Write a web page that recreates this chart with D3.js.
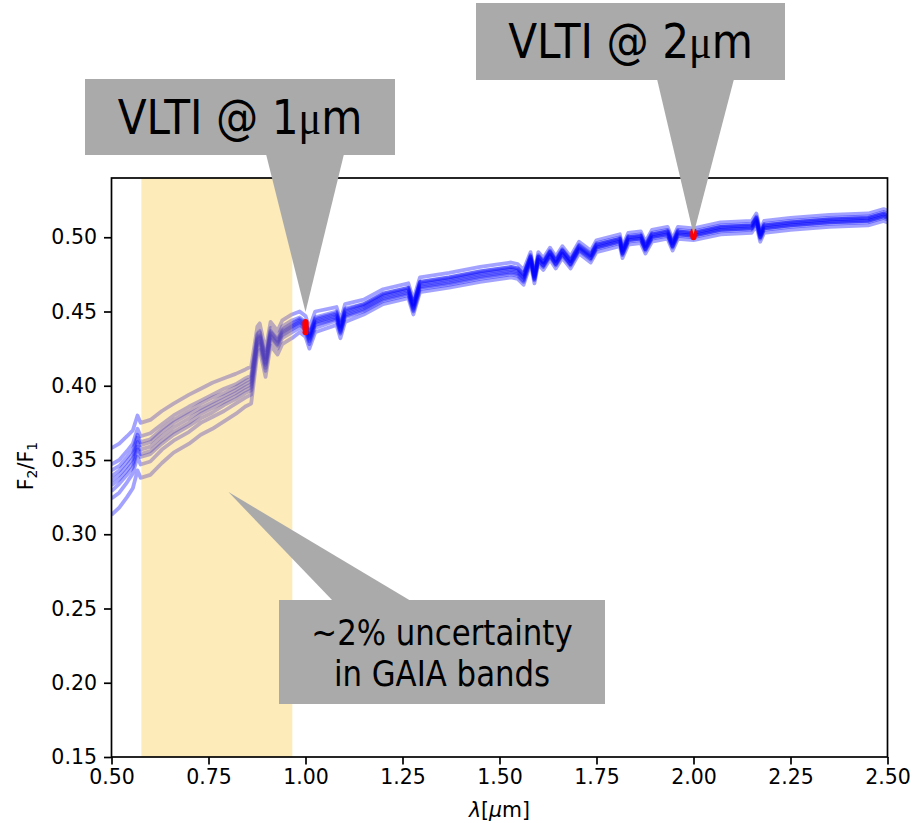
<!DOCTYPE html>
<html><head><meta charset="utf-8">
<script src="https://cdn.jsdelivr.net/npm/d3@7"></script>
<style>body{margin:0;background:#fff}svg{display:block}</style>
</head><body>
<svg id="c" width="916" height="823"></svg>
<script>
// ---- data ----
const wavelength = [0.500,0.520,0.540,0.555,0.567,0.575,0.600,0.630,0.660,0.700,
  0.730,0.760,0.790,0.820,0.845,0.860,0.876,0.882,0.897,0.910,
  0.928,0.940,0.965,0.985,1.000,1.010,1.025,1.080,1.090,1.102,
  1.150,1.200,1.265,1.278,1.295,1.370,1.450,1.530,1.547,1.562,
  1.580,1.590,1.600,1.613,1.630,1.645,1.662,1.683,1.705,1.735,
  1.750,1.810,1.817,1.832,1.864,1.876,1.893,1.933,1.946,1.960,
  2.000,2.070,2.150,2.162,2.172,2.182,2.250,2.350,2.450,2.490,2.500];

const memberA = [0.358,0.361,0.366,0.370,0.380,0.375,0.377,0.383,0.388,0.394,
  0.398,0.402,0.405,0.408,0.411,0.413,0.440,0.442,0.424,0.443,
  0.437,0.444,0.448,0.450,0.447,0.439,0.450,0.453,0.444,0.455,
  0.458,0.465,0.469,0.458,0.473,0.476,0.480,0.483,0.482,0.478,
  0.490,0.477,0.490,0.486,0.493,0.487,0.494,0.487,0.497,0.491,
  0.498,0.502,0.494,0.503,0.504,0.497,0.505,0.507,0.499,0.507,
  0.506,0.510,0.511,0.516,0.505,0.511,0.513,0.515,0.516,0.519,0.518];
const memberB = [0.347,0.350,0.356,0.361,0.371,0.366,0.368,0.374,0.380,0.386,
  0.390,0.394,0.398,0.401,0.405,0.407,0.435,0.437,0.419,0.439,
  0.433,0.440,0.444,0.446,0.443,0.435,0.446,0.450,0.441,0.452,
  0.455,0.462,0.466,0.455,0.470,0.473,0.477,0.480,0.479,0.475,
  0.488,0.475,0.488,0.484,0.491,0.485,0.492,0.485,0.495,0.489,
  0.496,0.500,0.492,0.501,0.502,0.495,0.503,0.505,0.497,0.505,
  0.504,0.508,0.509,0.514,0.503,0.509,0.511,0.513,0.514,0.517,0.516];
const memberC = [0.343,0.346,0.352,0.357,0.367,0.362,0.364,0.371,0.377,0.383,
  0.388,0.392,0.395,0.399,0.403,0.405,0.434,0.436,0.418,0.437,
  0.431,0.438,0.442,0.445,0.442,0.434,0.445,0.449,0.440,0.451,
  0.455,0.462,0.466,0.455,0.470,0.473,0.477,0.480,0.479,0.475,
  0.487,0.474,0.487,0.483,0.490,0.484,0.491,0.484,0.494,0.488,
  0.495,0.499,0.491,0.500,0.501,0.494,0.502,0.504,0.496,0.504,
  0.503,0.507,0.508,0.513,0.502,0.508,0.510,0.512,0.513,0.516,0.515];
const memberD = [0.339,0.343,0.349,0.354,0.365,0.360,0.362,0.369,0.375,0.381,
  0.385,0.389,0.393,0.397,0.401,0.403,0.432,0.434,0.416,0.436,
  0.430,0.437,0.441,0.444,0.441,0.433,0.444,0.448,0.439,0.450,
  0.454,0.461,0.465,0.454,0.469,0.472,0.476,0.479,0.478,0.474,
  0.487,0.474,0.487,0.483,0.490,0.484,0.491,0.484,0.494,0.488,
  0.495,0.499,0.491,0.500,0.501,0.494,0.502,0.504,0.496,0.504,
  0.503,0.507,0.508,0.513,0.502,0.508,0.510,0.512,0.513,0.516,0.515];
const memberE = [0.336,0.340,0.346,0.351,0.362,0.357,0.359,0.366,0.372,0.378,
  0.383,0.387,0.391,0.395,0.399,0.401,0.431,0.433,0.415,0.435,
  0.429,0.436,0.440,0.443,0.440,0.432,0.443,0.447,0.438,0.449,
  0.453,0.460,0.464,0.453,0.468,0.471,0.475,0.478,0.477,0.473,
  0.486,0.473,0.486,0.482,0.489,0.483,0.490,0.483,0.493,0.487,
  0.494,0.498,0.490,0.499,0.500,0.493,0.501,0.503,0.495,0.503,
  0.502,0.506,0.507,0.512,0.501,0.507,0.509,0.511,0.512,0.515,0.514];
const memberF = [0.333,0.337,0.343,0.348,0.359,0.354,0.356,0.363,0.369,0.375,
  0.381,0.385,0.389,0.393,0.397,0.399,0.430,0.432,0.414,0.434,
  0.428,0.435,0.439,0.442,0.439,0.431,0.442,0.446,0.437,0.448,
  0.452,0.459,0.463,0.452,0.467,0.470,0.474,0.477,0.476,0.472,
  0.485,0.472,0.485,0.481,0.488,0.482,0.489,0.482,0.492,0.486,
  0.493,0.497,0.489,0.498,0.499,0.492,0.500,0.502,0.494,0.502,
  0.501,0.505,0.506,0.511,0.500,0.506,0.508,0.510,0.511,0.514,0.513];
const memberG = [0.329,0.334,0.340,0.345,0.357,0.352,0.354,0.361,0.367,0.373,
  0.378,0.382,0.387,0.391,0.395,0.397,0.428,0.430,0.412,0.433,
  0.427,0.434,0.438,0.441,0.438,0.430,0.441,0.445,0.436,0.447,
  0.451,0.458,0.462,0.451,0.466,0.469,0.473,0.476,0.475,0.471,
  0.485,0.472,0.485,0.481,0.488,0.482,0.489,0.482,0.492,0.486,
  0.493,0.497,0.489,0.498,0.499,0.492,0.500,0.502,0.494,0.502,
  0.501,0.505,0.506,0.511,0.500,0.506,0.508,0.510,0.511,0.514,0.513];
const memberH = [0.324,0.328,0.335,0.341,0.352,0.347,0.349,0.357,0.363,0.369,
  0.375,0.379,0.383,0.388,0.392,0.394,0.426,0.428,0.410,0.431,
  0.425,0.432,0.436,0.439,0.436,0.428,0.439,0.444,0.435,0.446,
  0.450,0.457,0.461,0.450,0.465,0.468,0.472,0.475,0.474,0.470,
  0.484,0.471,0.484,0.480,0.487,0.481,0.488,0.481,0.491,0.485,
  0.492,0.496,0.488,0.497,0.498,0.491,0.499,0.501,0.493,0.501,
  0.500,0.504,0.505,0.510,0.499,0.505,0.507,0.509,0.510,0.513,0.512];
const memberI = [0.313,0.318,0.325,0.331,0.343,0.338,0.340,0.348,0.355,0.361,
  0.367,0.371,0.376,0.381,0.386,0.388,0.422,0.424,0.406,0.427,
  0.421,0.428,0.432,0.436,0.433,0.425,0.436,0.441,0.432,0.443,
  0.448,0.455,0.459,0.448,0.463,0.466,0.470,0.473,0.472,0.468,
  0.482,0.469,0.482,0.478,0.485,0.479,0.486,0.479,0.489,0.483,
  0.490,0.494,0.486,0.495,0.496,0.489,0.497,0.499,0.491,0.499,
  0.498,0.502,0.503,0.508,0.497,0.503,0.505,0.507,0.508,0.511,0.510];
const members = [memberA, memberB, memberC, memberD, memberE, memberF, memberG, memberH, memberI];
const vltiMembers = [memberB, memberC, memberD, memberE, memberF, memberG, memberH];

const xTicks = [0.50, 0.75, 1.00, 1.25, 1.50, 1.75, 2.00, 2.25, 2.50];
const yTicks = [0.15, 0.20, 0.25, 0.30, 0.35, 0.40, 0.45, 0.50];
const gaiaBand = [0.577, 0.966];
const vltiWavelengths = [1.000, 2.000];
const vltiTips = [0.4497, 0.502];
const vltiLabels = ["1", "2"];
const gaiaTip = [0.8015, 0.3284];
const gaiaLines = ["~2% uncertainty", "in GAIA bands"];

// ---- layout ----
const L = 111.5, R = 887.5, T = 178, B = 757;
const svg = d3.select("#c");
const x = d3.scaleLinear().domain([0.5, 2.5]).range([L, R]);
const y = d3.scaleLinear().domain([0.15, 0.15 + (B - T) / 1485]).range([B, T]);

svg.append("defs").append("clipPath").attr("id", "clip")
  .append("rect").attr("x", L).attr("y", T).attr("width", R - L).attr("height", B - T);

const plot = svg.append("g").attr("clip-path", "url(#clip)");
const line = d3.line().x((d, i) => x(wavelength[i])).y(d => y(d));

plot.selectAll("path.member").data(members).join("path")
  .attr("class", "member")
  .attr("d", line)
  .attr("fill", "none")
  .attr("stroke", "#0000ff")
  .attr("stroke-opacity", 0.36)
  .attr("stroke-width", 3.8)
  .attr("stroke-linejoin", "round");

// red VLTI markers
vltiWavelengths.forEach(w => {
  const idx = wavelength.indexOf(w);
  plot.selectAll(null).data(vltiMembers).join("circle")
    .attr("cx", x(w)).attr("cy", d => y(d[idx])).attr("r", 3)
    .attr("fill", "#ff0000");
});

// GAIA band (drawn above the curves, translucent)
plot.append("rect")
  .attr("x", x(gaiaBand[0])).attr("y", T)
  .attr("width", x(gaiaBand[1]) - x(gaiaBand[0])).attr("height", B - T)
  .attr("fill", "#f8bc1c").attr("fill-opacity", 0.3);

// ---- axes ----
const fontTick = "20.5px 'DejaVu Sans'";
const xAxis = svg.append("g").attr("transform", `translate(0,${B})`)
  .call(d3.axisBottom(x).tickValues(xTicks).tickFormat(d3.format(".2f")).tickSize(7.5).tickPadding(5));
const yAxis = svg.append("g").attr("transform", `translate(${L},0)`)
  .call(d3.axisLeft(y).tickValues(yTicks).tickFormat(d3.format(".2f")).tickSize(7.5).tickPadding(7));
[xAxis, yAxis].forEach(g => {
  g.select(".domain").remove();
  g.selectAll(".tick line").attr("stroke", "#000").attr("stroke-width", 1.7);
  g.selectAll(".tick text").style("font", fontTick).attr("fill", "#000");
});

svg.append("rect").attr("x", L).attr("y", T).attr("width", R - L).attr("height", B - T)
  .attr("fill", "none").attr("stroke", "#000").attr("stroke-width", 1.7);

// axis labels
const xl = svg.append("text").attr("x", (L + R) / 2).attr("y", 817)
  .attr("text-anchor", "middle").style("font", fontTick);
xl.append("tspan").attr("font-style", "italic").text("λ");
xl.append("tspan").text("[");
xl.append("tspan").attr("font-style", "italic").text("μ");
xl.append("tspan").text("m]");

const yl = svg.append("text").attr("transform", "translate(33,466) rotate(-90)")
  .attr("text-anchor", "middle").style("font", fontTick);
yl.append("tspan").text("F");
yl.append("tspan").attr("font-size", "14px").attr("dy", 4).text("2");
yl.append("tspan").attr("dy", -4).text("/F");
yl.append("tspan").attr("font-size", "14px").attr("dy", 4).text("1");

// ---- callouts ----
const grey = "#aaaaaa";
const calloutFont = "'DejaVu Sans'";
const squeeze = 0.88;
function condensedText(cx, cy, size) {
  return svg.append("g").attr("transform", `translate(${cx},${cy}) scale(${squeeze},1)`)
    .append("text").attr("x", 0).attr("y", 0).attr("text-anchor", "middle")
    .style("font-family", calloutFont).style("font-size", size + "px").attr("fill", "#000");
}
const boxes = [
  {x0: 85, x1: 395, y0: 79, y1: 155, base: [266, 344]},
  {x0: 476, x1: 785, y0: 3, y1: 80, base: [657, 734]}
];
boxes.forEach((b, i) => {
  const tx = x(vltiWavelengths[i]), ty = y(vltiTips[i]);
  svg.append("path")
    .attr("d", `M${b.base[0]},${b.y1 - 1}L${b.base[1]},${b.y1 - 1}L${tx},${ty}Z`)
    .attr("fill", grey);
  svg.append("rect").attr("x", b.x0).attr("y", b.y0)
    .attr("width", b.x1 - b.x0).attr("height", b.y1 - b.y0).attr("fill", grey);
  const t = condensedText((b.x0 + b.x1) / 2, b.y0 + 55, 48);
  t.append("tspan").text("VLTI @ " + vltiLabels[i]);
  t.append("tspan").style("font-family", "'Liberation Serif','DejaVu Serif'").text("μ");
  t.append("tspan").text("m");
});

// GAIA callout
const g3 = {x0: 279, x1: 605, y0: 600, y1: 704, base: [333, 411]};
svg.append("path")
  .attr("d", `M${g3.base[0]},${g3.y0 + 1}L${g3.base[1]},${g3.y0 + 1}L${x(gaiaTip[0])},${y(gaiaTip[1])}Z`)
  .attr("fill", grey);
svg.append("rect").attr("x", g3.x0).attr("y", g3.y0)
  .attr("width", g3.x1 - g3.x0).attr("height", g3.y1 - g3.y0).attr("fill", grey);
gaiaLines.forEach((s, i) => {
  condensedText((g3.x0 + g3.x1) / 2, 645 + i * 41, 35).text(s);
});
</script>
</body></html>
